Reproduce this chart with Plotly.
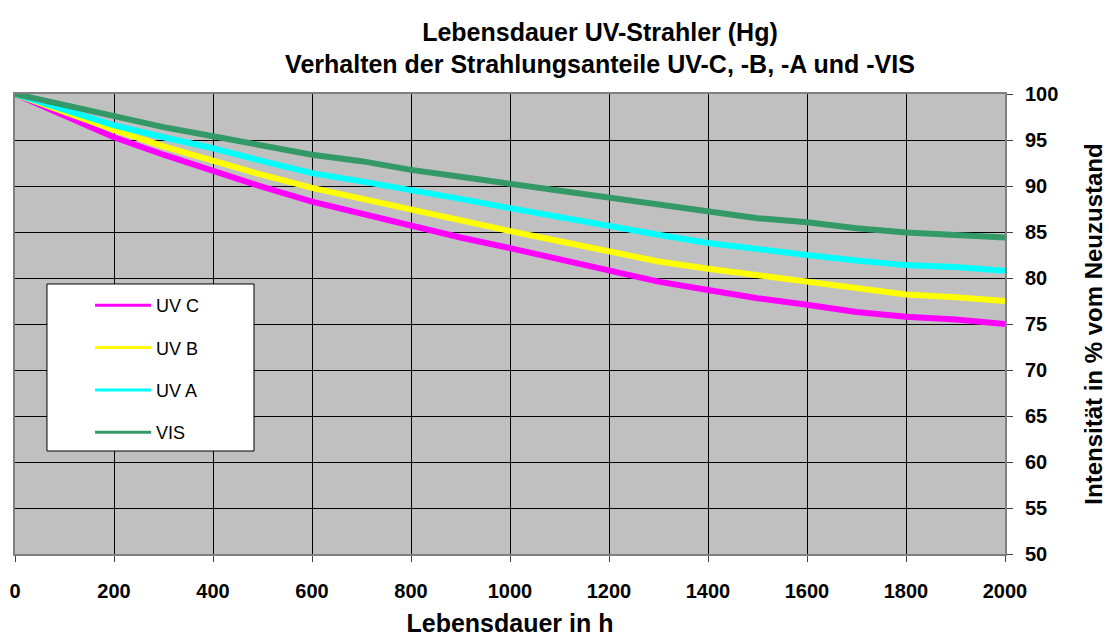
import plotly.graph_objects as go

hours = [0, 100, 200, 300, 400, 500, 600, 700, 800, 900, 1000,
         1100, 1200, 1300, 1400, 1500, 1600, 1700, 1800, 1900, 2000]
uv_c = [100, 97.6, 95.3, 93.4, 91.6, 89.9, 88.3, 87.0, 85.6, 84.4, 83.25,
        82.0, 80.9, 79.6, 78.7, 77.8, 77.1, 76.3, 75.8, 75.5, 75.0]
uv_b = [100, 98.0, 96.1, 94.3, 92.7, 91.2, 89.8, 88.6, 87.4, 86.2, 85.1,
        84.0, 82.9, 81.8, 81.0, 80.3, 79.6, 78.8, 78.2, 77.9, 77.5]
uv_a = [100, 98.3, 96.6, 95.3, 94.1, 92.7, 91.4, 90.5, 89.6, 88.6, 87.6,
        86.6, 85.6, 84.7, 83.8, 83.1, 82.5, 81.9, 81.4, 81.2, 80.8]
vis = [100, 98.8, 97.5, 96.4, 95.4, 94.4, 93.4, 92.7, 91.75, 91.0, 90.25,
       89.5, 88.7, 87.85, 87.1, 86.5, 86.05, 85.4, 84.95, 84.7, 84.4]

series = [("UV C", uv_c, "#FF00FF"), ("UV B", uv_b, "#FFFF00"),
          ("UV A", uv_a, "#00FFFF"), ("VIS", vis, "#339966")]

FONT = "Liberation Sans, Arial, sans-serif"

fig = go.Figure()
for name, vals, col in series:
    fig.add_trace(go.Scatter(x=hours, y=vals, name=name, mode="lines",
                             legendgroup=name, showlegend=False,
                             line=dict(color=col, width=6)))
# legend entries with thinner lines (as in the reference legend)
for name, vals, col in series:
    fig.add_trace(go.Scatter(x=[None], y=[None], name=name, mode="lines",
                             legendgroup=name, showlegend=True,
                             line=dict(color=col, width=3)))

# white legend box
fig.add_shape(type="rect", xref="paper", yref="paper",
              x0=0.0323, x1=0.2414, y0=0.2239, y1=0.587,
              fillcolor="white", line=dict(color="black", width=1), layer="above")

fig.update_layout(
    width=1109, height=637,
    margin=dict(l=15, r=104, t=94, b=83, autoexpand=False),
    paper_bgcolor="white", plot_bgcolor="#C0C0C0",
    font=dict(family=FONT, color="black"),
    title=dict(text="<b>Lebensdauer UV-Strahler (Hg)<br>Verhalten der Strahlungsanteile UV-C, -B, -A und -VIS</b>",
               x=0.541, xanchor="center", y=0.936, yanchor="top",
               font=dict(size=25, family=FONT)),
    showlegend=True,
    legend=dict(x=0.0758, y=0.5805, xanchor="left", yanchor="top",
                bgcolor="rgba(0,0,0,0)", borderwidth=0,
                font=dict(size=18, family=FONT),
                tracegroupgap=16, itemwidth=56,
                traceorder="grouped"),
    xaxis=dict(range=[0, 2000], dtick=200, tick0=0, automargin=False,
               showgrid=True, gridcolor="black", gridwidth=1,
               ticks="outside", ticklen=6, tickcolor="#404040",
               showline=True, linecolor="#808080", linewidth=2, mirror=True,
               zeroline=False,
               tickfont=dict(size=20, family=FONT),
               ticklabelstandoff=12,
               tickprefix="<b>", ticksuffix="</b>",
               title=dict(text="<b>Lebensdauer in h</b>", font=dict(size=25, family=FONT),
                          standoff=14)),
    yaxis=dict(range=[50, 100], dtick=5, side="right", automargin=False,
               showgrid=True, gridcolor="black", gridwidth=1,
               ticks="outside", ticklen=6, tickcolor="#404040",
               showline=True, linecolor="#808080", linewidth=2, mirror=True,
               zeroline=False,
               tickfont=dict(size=20, family=FONT),
               ticklabelstandoff=8,
               tickprefix="<b>", ticksuffix="</b>",
               title=dict(text="<b>Intensität in % vom Neuzustand</b>",
                          font=dict(size=24, family=FONT), standoff=28)),
)

fig.write_html("out.html")
